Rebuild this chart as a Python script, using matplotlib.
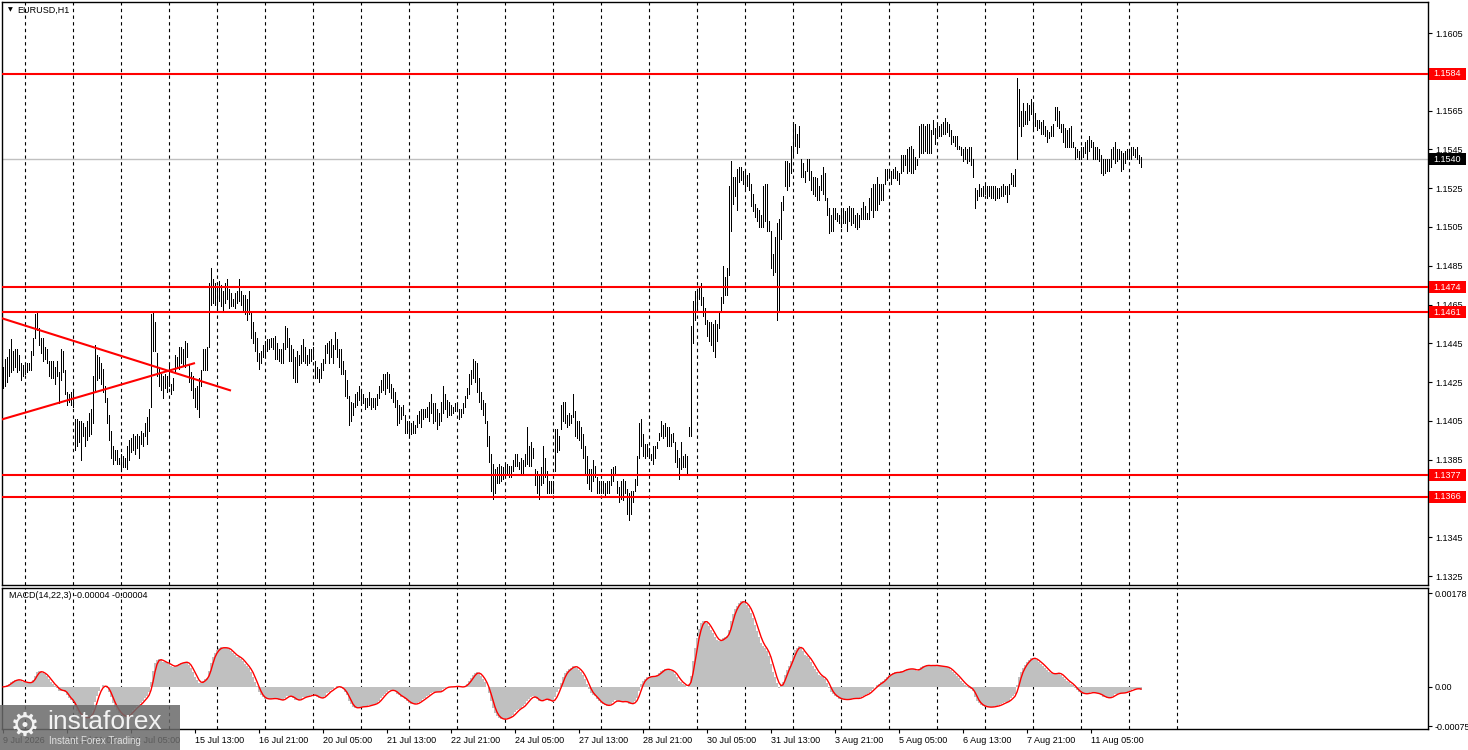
# EURUSD H1 chart with MACD - MetaTrader style
import matplotlib
matplotlib.use("Agg")
import matplotlib.pyplot as plt
import matplotlib.transforms as mtransforms
from matplotlib.patches import Rectangle
import numpy as np
import pandas as pd

plt.rcParams['font.family'] = ['Liberation Sans', 'DejaVu Sans']

symbol_title = "EURUSD,H1"
macd_title = "MACD(14,22,3) -0.00004 -0.00004"
first_bar_time = "2026-07-09 13:00"
base_price = 1.1300  # bar values below are pips above this

# hourly bar highs / lows in pips above base_price (12 bars per row)
high_pips = [
    133, 137, 138, 142, 147, 141, 142, 142, 139, 135, 134, 135,
    135, 135, 141, 148, 160, 161, 153, 148, 148, 143, 142, 136,
    136, 136, 133, 136, 130, 142, 141, 131, 120, 119, 120, 121,
    106, 106, 105, 105, 104, 102, 105, 109, 111, 128, 144, 139,
    138, 135, 132, 123, 117, 108, 100, 92, 90, 90, 86, 88,
    87, 86, 92, 95, 96, 98, 97, 98, 97, 100, 99, 104,
    107, 111, 160, 161, 156, 140, 133, 129, 128, 129, 128, 134,
    124, 127, 139, 138, 143, 143, 142, 146, 145, 134, 130, 128,
    122, 123, 127, 131, 142, 142, 143, 176, 184, 178, 176, 174,
    177, 175, 172, 176, 178, 173, 171, 168, 171, 172, 178, 172,
    170, 170, 168, 172, 161, 156, 151, 148, 140, 141, 144, 146,
    147, 147, 148, 148, 149, 145, 142, 142, 145, 154, 153, 148,
    144, 142, 138, 141, 139, 144, 147, 143, 139, 142, 142, 143,
    136, 133, 132, 135, 137, 144, 145, 146, 147, 144, 151, 147,
    142, 142, 136, 131, 126, 118, 115, 114, 119, 120, 123, 121,
    119, 117, 117, 120, 117, 117, 117, 119, 123, 126, 129, 129,
    130, 129, 124, 122, 120, 116, 113, 112, 113, 108, 105, 105,
    104, 105, 103, 108, 110, 111, 111, 111, 112, 115, 119, 114,
    114, 111, 109, 115, 123, 119, 116, 115, 113, 112, 114, 114,
    111, 111, 114, 118, 122, 129, 131, 137, 136, 135, 127, 120,
    116, 114, 105, 97, 88, 83, 80, 81, 83, 82, 81, 83,
    83, 82, 82, 85, 88, 88, 84, 86, 85, 88, 102, 92,
    94, 91, 80, 79, 77, 81, 92, 86, 79, 74, 74, 74,
    101, 101, 97, 113, 115, 115, 108, 109, 108, 119, 110, 105,
    105, 102, 98, 92, 87, 80, 80, 85, 82, 76, 74, 74,
    74, 73, 74, 74, 80, 81, 82, 74, 71, 74, 75, 74,
    70, 68, 69, 69, 75, 87, 104, 106, 98, 93, 93, 91,
    88, 92, 92, 94, 99, 105, 103, 104, 102, 102, 98, 99,
    94, 90, 86, 94, 87, 88, 87, 102, 154, 167, 172, 173,
    174, 176, 169, 163, 157, 156, 156, 155, 157, 155, 161, 169,
    185, 179, 184, 226, 239, 231, 231, 235, 236, 236, 234, 234,
    232, 233, 227, 222, 217, 215, 214, 211, 226, 227, 227, 208,
    203, 191, 200, 207, 209, 218, 221, 239, 239, 238, 247, 259,
    258, 253, 257, 240, 238, 234, 240, 240, 234, 231, 231, 230,
    226, 232, 236, 233, 220, 215, 211, 215, 215, 212, 211, 215,
    215, 213, 215, 216, 215, 215, 211, 212, 211, 215, 218, 216,
    212, 220, 225, 227, 227, 231, 227, 227, 227, 235, 235, 234,
    234, 235, 236, 234, 233, 242, 242, 242, 245, 246, 247, 245,
    241, 240, 257, 258, 258, 257, 258, 258, 255, 260, 256, 258,
    257, 258, 259, 261, 259, 258, 255, 252, 252, 252, 247, 246,
    245, 246, 245, 246, 246, 240, 225, 224, 227, 225, 226, 227,
    226, 226, 226, 226, 226, 225, 225, 226, 227, 226, 226, 227,
    233, 232, 235, 282, 276, 265, 269, 265, 269, 268, 271, 269,
    264, 260, 260, 259, 260, 257, 255, 254, 257, 258, 267, 267,
    265, 258, 258, 256, 255, 256, 257, 249, 246, 245, 244, 246,
    246, 249, 250, 252, 250, 249, 246, 246, 245, 242, 240, 240,
    240, 240, 245, 246, 249, 245, 245, 244, 243, 244, 245, 245,
    246, 246, 245, 246, 242, 241,
]
low_pips = [
    122, 123, 125, 128, 130, 131, 133, 130, 131, 126, 128, 129,
    130, 131, 131, 139, 148, 152, 144, 140, 136, 137, 135, 128,
    127, 127, 124, 128, 114, 126, 130, 119, 113, 115, 113, 112,
    90, 92, 94, 85, 97, 92, 95, 97, 98, 104, 121, 126,
    127, 124, 120, 115, 104, 95, 86, 83, 85, 83, 83, 79,
    81, 81, 80, 85, 89, 90, 88, 91, 86, 93, 92, 97,
    93, 100, 112, 141, 141, 128, 123, 121, 117, 122, 120, 123,
    119, 121, 130, 133, 132, 135, 134, 133, 138, 125, 121, 117,
    112, 111, 107, 123, 131, 131, 131, 143, 165, 166, 165, 163,
    167, 164, 162, 166, 168, 163, 164, 164, 163, 166, 167, 165,
    162, 160, 157, 160, 148, 145, 141, 136, 132, 135, 138, 139,
    141, 142, 143, 142, 137, 137, 136, 135, 135, 142, 143, 136,
    136, 127, 125, 125, 134, 135, 136, 135, 134, 135, 136, 137,
    127, 127, 125, 127, 131, 135, 140, 135, 138, 135, 142, 138,
    133, 129, 129, 118, 117, 103, 105, 108, 112, 113, 116, 113,
    114, 111, 112, 113, 111, 112, 111, 113, 117, 120, 121, 119,
    122, 120, 117, 115, 112, 103, 104, 106, 108, 99, 99, 97,
    98, 99, 99, 102, 104, 102, 106, 107, 107, 105, 109, 104,
    105, 101, 103, 105, 109, 111, 107, 108, 108, 109, 110, 111,
    106, 107, 109, 112, 117, 119, 124, 127, 125, 120, 115, 111,
    108, 104, 92, 84, 69, 65, 68, 73, 73, 74, 75, 76,
    78, 76, 76, 79, 82, 82, 80, 78, 78, 82, 83, 82,
    82, 86, 72, 68, 65, 72, 73, 76, 68, 68, 68, 68,
    79, 89, 90, 101, 105, 104, 102, 103, 104, 107, 97, 96,
    95, 91, 86, 78, 73, 70, 69, 74, 76, 68, 68, 68,
    68, 67, 68, 68, 72, 74, 77, 68, 63, 65, 64, 68,
    57, 54, 57, 63, 69, 72, 86, 92, 87, 86, 87, 86,
    85, 83, 86, 91, 95, 97, 96, 97, 92, 92, 92, 94,
    84, 81, 75, 80, 81, 81, 78, 97, 97, 145, 157, 162,
    168, 165, 159, 155, 149, 146, 144, 141, 138, 146, 153, 161,
    166, 170, 170, 180, 203, 217, 221, 214, 228, 229, 227, 224,
    226, 224, 216, 213, 210, 208, 205, 205, 205, 208, 203, 203,
    184, 180, 182, 157, 162, 199, 214, 226, 224, 226, 233, 241,
    247, 243, 246, 231, 231, 228, 234, 229, 224, 222, 221, 219,
    219, 224, 222, 219, 211, 202, 203, 203, 209, 208, 207, 205,
    207, 207, 203, 208, 206, 207, 205, 204, 205, 209, 209, 209,
    209, 209, 214, 210, 214, 214, 217, 219, 219, 227, 229, 231,
    227, 230, 230, 229, 227, 233, 234, 237, 233, 234, 233, 233,
    235, 237, 241, 243, 243, 244, 243, 243, 243, 253, 248, 251,
    252, 252, 253, 253, 254, 252, 248, 249, 247, 245, 245, 242,
    239, 240, 238, 239, 237, 231, 215, 219, 221, 221, 221, 222,
    220, 221, 220, 220, 219, 220, 220, 221, 221, 222, 218, 222,
    227, 226, 226, 240, 257, 252, 257, 258, 258, 260, 263, 256,
    257, 255, 256, 253, 253, 252, 249, 251, 252, 252, 260, 257,
    256, 254, 249, 246, 246, 246, 246, 246, 240, 241, 240, 240,
    241, 243, 240, 244, 246, 240, 240, 240, 239, 233, 232, 233,
    234, 234, 236, 240, 238, 239, 240, 234, 235, 238, 240, 240,
    240, 242, 241, 240, 238, 236,
]

# horizontal support / resistance levels and current price
red_levels = [1.1584, 1.1474, 1.1461, 1.1377, 1.1366]
last_price = 1.1540
price_ticks = [1.1325, 1.1345, 1.1365, 1.1385, 1.1405, 1.1425, 1.1445,
               1.1465, 1.1485, 1.1505, 1.1525, 1.1545, 1.1565, 1.1585, 1.1605]
hidden_ticks = [1.1365, 1.1585]  # covered by the level boxes

# triangle trend lines: (bar index, price) end points
trend_down_bars = [-0.5, 113.5]
trend_down_prices = [1.14579, 1.14208]
trend_up_bars = [-0.5, 95.5]
trend_up_prices = [1.14058, 1.14347]

# MACD panel scale labels
macd_ticks = [0.00178, 0.0, -0.00075]
macd_tick_labels = ["0.00178", "0.00", "-0.00075"]

W, H = 1468, 750
highs = base_price + np.array(high_pips) / 10000.0
lows = base_price + np.array(low_pips) / 10000.0
n = len(highs)
idx = np.arange(n)

# bar times: hourly, weekdays only
hours = pd.date_range(first_bar_time, periods=1500, freq="h")
bar_times = hours[hours.dayofweek < 5][: n + 30]

# MACD(14,22,3) on the bar mid price
close = pd.Series((highs + lows) / 2.0)
macd = close.ewm(span=14, adjust=False).mean() - close.ewm(span=22, adjust=False).mean()
signal = macd.rolling(3, min_periods=1).mean()

fig = plt.figure(figsize=(W / 100, H / 100), dpi=100)
fig.patch.set_facecolor("white")
ax = fig.add_axes([2 / W, 1 - 585 / H, 1426 / W, 583 / H])
ax2 = fig.add_axes([2 / W, 1 - 729 / H, 1426 / W, 141 / H])

xmax = (1428 - 2) / 2 - 0.5
for a in (ax, ax2):
    a.set_xlim(-0.5, xmax)
    for s in a.spines.values():
        s.set_color("black")
        s.set_linewidth(1.0)
    # day separators
    for i in range(n + 24):
        if bar_times[i].hour == 0:
            a.axvline(i, color="black", lw=0.8, ls=(0, (3, 3)), zorder=1)

# price bars
ax.vlines(idx, lows, highs, colors="black", linewidth=0.5, antialiased=False, zorder=3)
ylo, yhi = 1.13204, 1.16210
ax.set_ylim(ylo, yhi)

ax.axhline(last_price, color="#c0c0c0", lw=1.0, zorder=2)
for lv in red_levels:
    ax.axhline(lv, color="#ff0000", lw=1.5, zorder=4)
ax.plot(trend_down_bars, trend_down_prices, color="#ff0000", lw=1.5, zorder=4)
ax.plot(trend_up_bars, trend_up_prices, color="#ff0000", lw=1.5, zorder=4)

ax.set_xticks([])
ax.yaxis.tick_right()
ax.set_yticks(price_ticks)
ax.set_yticklabels(["" if p in hidden_ticks else f"{p:.4f}" for p in price_ticks])
ax.tick_params(axis="y", direction="out", length=3, width=0.8, labelsize=6.5, pad=2)

# price boxes on the right scale
trans = mtransforms.blended_transform_factory(ax.transAxes, ax.transData)
box_w = 37 / 1426
box_h = 12 * (yhi - ylo) / 583
for lv, col in [(v, "#ff0000") for v in red_levels] + [(last_price, "black")]:
    ax.add_patch(Rectangle((1.0007, lv - box_h / 2), box_w, box_h, transform=trans,
                           facecolor=col, edgecolor="none", clip_on=False, zorder=5))
    ax.text(1.0007 + box_w / 2, lv, f"{lv:.4f}", transform=trans, ha="center", va="center",
            fontsize=6.5, color="white", clip_on=False, zorder=6)

fig.text(8 / W, 1 - 10 / H, "\u25bc", fontsize=4.5, va="center", ha="left",
         family="DejaVu Sans")
fig.text(17 / W, 1 - 10 / H, symbol_title, fontsize=6.5, va="center", ha="left")

# MACD panel
ax2.bar(idx, macd.values, width=1.0, color="#c0c0c0", linewidth=0, zorder=2)
ax2.plot(idx, signal.values, color="#ff0000", lw=1.0, zorder=3)
ax2.set_ylim(-0.00080, 0.00188)
ax2.yaxis.tick_right()
ax2.set_yticks(macd_ticks)
ax2.set_yticklabels(macd_tick_labels)
ax2.tick_params(axis="y", direction="out", length=3, width=0.8, labelsize=6.5, pad=1.5)
ax2.text(7 / 1426, 1 - 8 / 141, macd_title, transform=ax2.transAxes,
         fontsize=6.5, va="center", ha="left")

label_bars = list(range(0, n - 20, 32))
labels = []
for i in label_bars:
    t = bar_times[i]
    if i == 0:
        labels.append(f"{t.day} {t:%b} {t.year}")
    else:
        labels.append(f"{t.day} {t:%b} {t:%H:%M}")
ax2.set_xticks(label_bars)
ax2.set_xticklabels(labels, ha="left")
ax2.tick_params(axis="x", direction="out", length=3, width=0.8, labelsize=6.5, pad=2)

# watermark logo
fig.add_artist(Rectangle((0, 0), 180 / W, 45 / H, transform=fig.transFigure,
                         facecolor="#6a6a6a", edgecolor="none", alpha=0.85, zorder=10))
fig.text(25 / W, 1 - 726 / H, "\u2699", fontsize=24, color="#f2f2f2",
         ha="center", va="center", zorder=11, family="DejaVu Sans")
fig.text(47 / W, 1 - 722 / H, "instaforex", fontsize=19, color="#f2f2f2",
         ha="left", va="center", zorder=11)
fig.text(49 / W, 1 - 741 / H, "Instant Forex Trading", fontsize=7, color="#e0e0e0",
         ha="left", va="center", zorder=11)

fig.savefig("out.png", dpi=100)
